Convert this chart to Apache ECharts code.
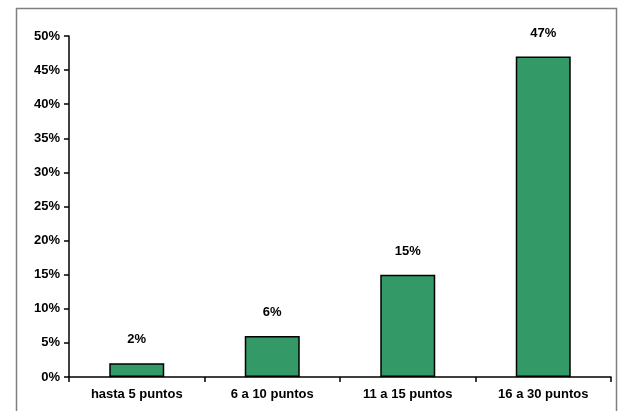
<!DOCTYPE html>
<html><head><meta charset="utf-8">
<script src="https://cdn.jsdelivr.net/npm/echarts@6/dist/echarts.min.js"></script>
<style>html,body{margin:0;padding:0;background:#fff}#c{width:624px;height:411px}</style>
</head><body><div id="c"></div>
<script>
const categories = ["hasta 5 puntos", "6 a 10 puntos", "11 a 15 puntos", "16 a 30 puntos"];
const values = [2, 6, 15, 47];
const yTicks = [0, 5, 10, 15, 20, 25, 30, 35, 40, 45, 50];

const chart = echarts.init(document.getElementById('c'));
const font = 'Liberation Sans, Arial, sans-serif';
chart.setOption({
  animation: false,
  backgroundColor: '#fff',
  graphic: [{
    type: 'rect', shape: {x: 16.5, y: 8.5, width: 600, height: 420},
    style: {fill: 'none', stroke: '#808080', lineWidth: 1.5}, silent: true
  }],
  grid: {left: 69, right: 13, top: 36, bottom: 34},
  xAxis: {
    type: 'category', data: categories,
    axisLine: {lineStyle: {color: '#000', width: 1.5}},
    axisTick: {show: true, length: 5, lineStyle: {color: '#000', width: 1.5}},
    axisLabel: {color: '#000', fontFamily: font, fontSize: 13, fontWeight: 'bold', margin: 11}
  },
  yAxis: {
    type: 'value', min: yTicks[0], max: yTicks[yTicks.length - 1], interval: 5,
    axisLine: {show: true, lineStyle: {color: '#000', width: 1.5}},
    axisTick: {show: true, length: 5, lineStyle: {color: '#000', width: 1.5}},
    splitLine: {show: false},
    axisLabel: {color: '#000', fontFamily: font, fontSize: 13, fontWeight: 'bold', margin: 9, formatter: '{value}%'}
  },
  series: [{
    type: 'bar', data: values, barWidth: 55,
    itemStyle: {color: '#339966', borderColor: '#000', borderWidth: 1.5},
    label: {show: true, position: 'top', distance: 17, color: '#000', fontFamily: font, fontSize: 13, fontWeight: 'bold', formatter: '{c}%'}
  }]
});
</script></body></html>
